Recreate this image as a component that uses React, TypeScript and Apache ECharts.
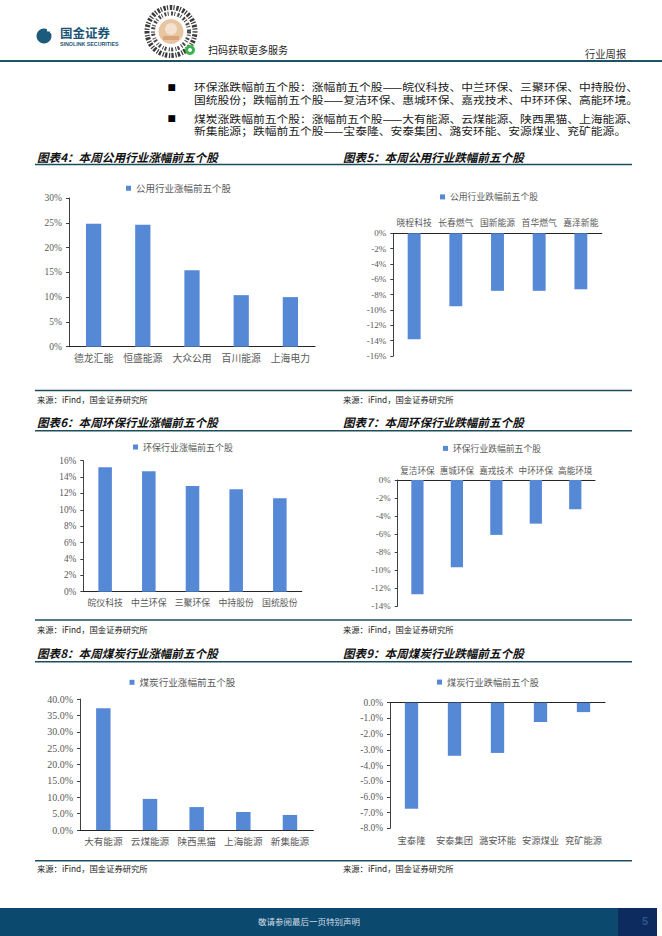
import React, { useEffect, useRef } from "react";
import * as echarts from "echarts";

// ---- data ----
const utilUpNames = ["德龙汇能", "恒盛能源", "大众公用", "百川能源", "上海电力"];
const utilUpValues = [24.8, 24.6, 15.4, 10.4, 10.0];
const utilDownNames = ["晓程科技", "长春燃气", "国新能源", "首华燃气", "嘉泽新能"];
const utilDownValues = [-13.8, -9.5, -7.5, -7.5, -7.3];
const envUpNames = ["皖仪科技", "中兰环保", "三聚环保", "中持股份", "国统股份"];
const envUpValues = [15.2, 14.7, 12.9, 12.5, 11.4];
const envDownNames = ["复洁环保", "惠城环保", "嘉戎技术", "中环环保", "高能环境"];
const envDownValues = [-12.7, -9.7, -6.1, -4.85, -3.25];
const coalUpNames = ["大有能源", "云煤能源", "陕西黑猫", "上海能源", "新集能源"];
const coalUpValues = [37.2, 9.5, 7.0, 5.5, 4.6];
const coalDownNames = ["宝泰隆", "安泰集团", "潞安环能", "安源煤业", "兖矿能源"];
const coalDownValues = [-6.75, -3.38, -3.2, -1.23, -0.6];

// axis ranges: [min, max, interval, decimals]
const utilUpAxis = [0, 30, 5, 0];
const utilDownAxis = [-16, 0, 2, 0];
const envUpAxis = [0, 16, 2, 0];
const envDownAxis = [-14, 0, 2, 0];
const coalUpAxis = [0, 40, 5, 1];
const coalDownAxis = [-8, 0, 1, 1];

const seriesNames = [
  "公用行业涨幅前五个股",
  "公用行业跌幅前五个股",
  "环保行业涨幅前五个股",
  "环保行业跌幅前五个股",
  "煤炭行业涨幅前五个股",
  "煤炭行业跌幅前五个股",
];
const chartTitles = [
  "图表4：本周公用行业涨幅前五个股",
  "图表5：本周公用行业跌幅前五个股",
  "图表6：本周环保行业涨幅前五个股",
  "图表7：本周环保行业跌幅前五个股",
  "图表8：本周煤炭行业涨幅前五个股",
  "图表9：本周煤炭行业跌幅前五个股",
];
const bulletLines = [
  "环保涨跌幅前五个股：涨幅前五个股——皖仪科技、中兰环保、三聚环保、中持股份、",
  "国统股份；跌幅前五个股——复洁环保、惠城环保、嘉戎技术、中环环保、高能环境。",
  "煤炭涨跌幅前五个股：涨幅前五个股——大有能源、云煤能源、陕西黑猫、上海能源、",
  "新集能源；跌幅前五个股——宝泰隆、安泰集团、潞安环能、安源煤业、兖矿能源。",
];
const sourceText = "来源：iFind，国金证券研究所";

const CJK = '"Noto Sans CJK SC", sans-serif';
const SERIF = '"Liberation Serif", "DejaVu Serif", serif';
const BAR = "#5589d6";
const TEAL = "#1d4d5d";
const GRAY = "#595959";

type Layout = {
  grid: { left: number; top: number; width: number; height: number };
  legend: { left: number; top: number; size: number };
  cat: "bottom" | "top" | "low";
  catSize: number;
  tickSize: number;
};

const layouts: Layout[] = [
  { grid: { left: 69, top: 198, width: 246, height: 148.7 }, legend: { left: 126, top: 183.5, size: 9.5 }, cat: "bottom", catSize: 9.8, tickSize: 9.5 },
  { grid: { left: 393.3, top: 233.3, width: 208.4, height: 122.7 }, legend: { left: 440, top: 192.5, size: 8.8 }, cat: "top", catSize: 8.8, tickSize: 9 },
  { grid: { left: 83.3, top: 460.7, width: 218.4, height: 131 }, legend: { left: 133, top: 442.5, size: 9 }, cat: "bottom", catSize: 8.9, tickSize: 9.3 },
  { grid: { left: 397.7, top: 480, width: 197.3, height: 126 }, legend: { left: 443, top: 444, size: 8.8 }, cat: "top", catSize: 8.6, tickSize: 9 },
  { grid: { left: 80, top: 699, width: 233.3, height: 131 }, legend: { left: 129.5, top: 677.5, size: 9.6 }, cat: "bottom", catSize: 9.6, tickSize: 10 },
  { grid: { left: 390, top: 702.7, width: 215, height: 125.6 }, legend: { left: 437, top: 677.5, size: 9.2 }, cat: "low", catSize: 9.3, tickSize: 9.4 },
];

const allNames = [utilUpNames, utilDownNames, envUpNames, envDownNames, coalUpNames, coalDownNames];
const allValues = [utilUpValues, utilDownValues, envUpValues, envDownValues, coalUpValues, coalDownValues];
const allAxes = [utilUpAxis, utilDownAxis, envUpAxis, envDownAxis, coalUpAxis, coalDownAxis];

function buildOption() {
  const grid: any[] = [];
  const xAxis: any[] = [];
  const yAxis: any[] = [];
  const series: any[] = [];
  const legend: any[] = [];

  layouts.forEach((L, i) => {
    grid.push({ ...L.grid, containLabel: false });
    const [min, max, interval, dec] = allAxes[i];
    const catLabel = {
      show: true,
      interval: 0,
      fontSize: L.catSize,
      color: GRAY,
      fontFamily: CJK,
      margin: 6,
    };
    const lineStyle = { color: "#262626", width: 1.2 };
    let xIdx = xAxis.length;
    if (L.cat === "low") {
      xAxis.push({
        type: "category",
        gridIndex: i,
        data: allNames[i],
        position: "bottom",
        axisLine: { show: false, onZero: false },
        axisTick: { show: false },
        axisLabel: { ...catLabel, margin: 7 },
      });
      xAxis.push({
        type: "category",
        gridIndex: i,
        data: allNames[i],
        position: "top",
        axisLine: { show: true, lineStyle },
        axisTick: { show: false },
        axisLabel: { show: false },
      });
    } else {
      xAxis.push({
        type: "category",
        gridIndex: i,
        data: allNames[i],
        position: L.cat,
        axisLine: { show: true, lineStyle },
        axisTick: { show: false },
        axisLabel: catLabel,
      });
    }
    yAxis.push({
      type: "value",
      gridIndex: i,
      min,
      max,
      interval,
      splitLine: { show: false },
      axisLine: { show: true, lineStyle: { color: "#404040", width: 1 } },
      axisTick: { show: true, length: 3, lineStyle: { color: "#404040" } },
      axisLabel: {
        fontSize: L.tickSize,
        color: GRAY,
        fontFamily: SERIF,
        margin: 7,
        formatter: (v: number) => v.toFixed(dec) + "%",
      },
    });
    series.push({
      type: "bar",
      name: seriesNames[i],
      xAxisIndex: xIdx,
      yAxisIndex: i,
      data: allValues[i],
      barWidth: "31%",
      itemStyle: { color: BAR },
    });
    legend.push({
      data: [seriesNames[i]],
      left: L.legend.left,
      top: L.legend.top,
      padding: 0,
      icon: "rect",
      itemWidth: 5,
      itemHeight: 5,
      selectedMode: false,
      textStyle: { fontSize: L.legend.size, color: GRAY, fontFamily: CJK },
    });
  });

  const txt = (x: number, y: number, text: string, o: any = {}) => ({
    type: "text",
    x,
    y,
    scaleX: o.sx || 1,
    silent: true,
    style: {
      text,
      fill: o.fill || "#222",
      fontSize: o.size || 10,
      fontFamily: o.family || CJK,
      fontWeight: o.weight || "normal",
      fontStyle: o.style || "normal",
      align: o.align || "left",
      verticalAlign: o.va || "middle",
      lineHeight: o.lh || undefined,
    },
  });
  const hline = (x1: number, x2: number, y: number, color: string, w: number) => ({
    type: "line",
    silent: true,
    shape: { x1, y1: y, x2, y2: y },
    style: { stroke: color, lineWidth: w },
  });

  const graphics: any[] = [];
  // header logo
  graphics.push({ type: "circle", shape: { cx: 44, cy: 36, r: 7.5 }, style: { fill: "#1d5a7b" } });
  graphics.push({ type: "circle", shape: { cx: 50, cy: 30, r: 3.2 }, style: { fill: "#ffffff" } });
  graphics.push({ type: "rect", shape: { x: 47, y: 31.5, width: 3, height: 3 }, style: { fill: "#1d5a7b" } });
  graphics.push(txt(60, 32.5, "国金证券", { size: 12.5, weight: "bold", fill: "#1d5575", lh: 12 }));
  graphics.push(txt(60, 44.2, "SINOLINK SECURITIES", { size: 5.3, weight: "bold", fill: "#1d5575", family: '"Liberation Sans", sans-serif', lh: 6 }));
  // mini program code (decoration)
  graphics.push({ type: "circle", shape: { cx: 171, cy: 31.5, r: 24 }, style: { fill: "none", stroke: "#3a3a3a", lineWidth: 5, lineDash: [1.2, 1.6, 2.4, 1.2] } });
  graphics.push({ type: "circle", shape: { cx: 171, cy: 31.5, r: 18 }, style: { fill: "none", stroke: "#4a4a4a", lineWidth: 4, lineDash: [2, 1.3, 1, 2.2] } });
  graphics.push({ type: "circle", shape: { cx: 171, cy: 31.5, r: 12.5 }, style: { fill: "#e8c6a2" } });
  graphics.push({ type: "circle", shape: { cx: 171, cy: 29, r: 6 }, style: { fill: "#f3e2d0" } });
  graphics.push({ type: "rect", shape: { x: 163, y: 36, width: 16, height: 4 }, style: { fill: "#d9a57a" } });
  graphics.push({ type: "circle", shape: { cx: 190, cy: 50, r: 5 }, style: { fill: "#38b449" } });
  graphics.push({ type: "circle", shape: { cx: 190, cy: 50, r: 2 }, style: { fill: "#ffffff" } });
  graphics.push(txt(208, 49.5, "扫码获取更多服务", { size: 10, fill: "#1a1a1a" }));
  graphics.push(txt(585, 53, "行业周报", { size: 10.3, fill: "#333" }));
  graphics.push(hline(0, 662, 61, "#1f5262", 2));

  // bullets
  graphics.push(txt(171.7, 86.7, "■", { size: 8.5, fill: "#000", align: "center", lh: 9 }));
  graphics.push(txt(171.7, 118.3, "■", { size: 8.5, fill: "#000", align: "center", lh: 9 }));
  const bulletY = [86.5, 99, 118, 130.5];
  bulletLines.forEach((t, k) =>
    graphics.push(txt(194, bulletY[k], t, { size: 10.3, sx: 1.145, fill: "#1a1a1a", lh: 10.5 }))
  );

  // titles and rules
  const titleY = [156.5, 421.7, 653.3];
  const ruleY = [164.5, 430.7, 661.7];
  const srcRuleY = [390.5, 620, 860.7];
  const srcY = [398.5, 629.3, 868.3];
  for (let r = 0; r < 3; r++) {
    graphics.push(txt(37, titleY[r], chartTitles[r * 2], { size: 11.6, weight: "bold", style: "italic", fill: "#111" }));
    graphics.push(txt(343, titleY[r], chartTitles[r * 2 + 1], { size: 11.6, weight: "bold", style: "italic", fill: "#111" }));
    graphics.push(hline(35, 632, ruleY[r], TEAL, 1.5));
    graphics.push(hline(35, 632, srcRuleY[r], TEAL, 1.5));
    graphics.push(txt(37, srcY[r], sourceText, { size: 8.3, fill: "#222" }));
    graphics.push(txt(343, srcY[r], sourceText, { size: 8.3, fill: "#222" }));
  }

  // footer
  graphics.push({ type: "rect", shape: { x: 0, y: 908, width: 618, height: 28 }, style: { fill: "#0b4a6e" } });
  graphics.push({ type: "rect", shape: { x: 618, y: 908, width: 39, height: 28 }, style: { fill: "#0d2b5e" } });
  graphics.push(txt(258, 921, "敬请参阅最后一页特别声明", { size: 8.5, fill: "#d4dde8" }));
  graphics.push(txt(645, 921, "5", { size: 11, weight: "bold", fill: "#2f5391", align: "center", family: '"Liberation Sans", sans-serif' }));

  return {
    animation: false,
    backgroundColor: "#ffffff",
    grid,
    xAxis,
    yAxis,
    series,
    legend,
    graphic: { elements: graphics },
  };
}

export default function App() {
  const ref = useRef<HTMLDivElement>(null);
  useEffect(() => {
    if (!ref.current) return;
    const chart = echarts.init(ref.current, undefined, { renderer: "svg" });
    chart.setOption(buildOption());
    return () => chart.dispose();
  }, []);
  return (
    <div
      ref={ref}
      style={{ position: "absolute", left: 0, top: 0, width: 662, height: 936, background: "#fff" }}
    />
  );
}
